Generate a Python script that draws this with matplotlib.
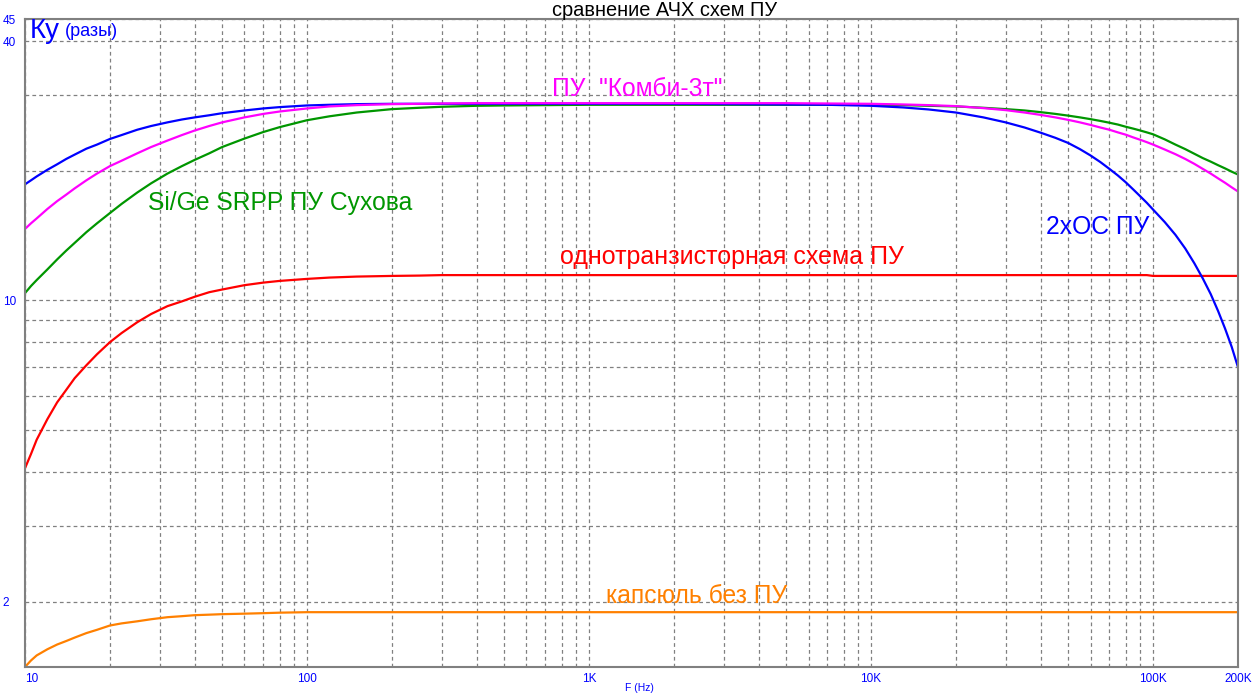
import matplotlib
matplotlib.use("Agg")
import matplotlib.pyplot as plt
from matplotlib.ticker import FixedLocator, NullFormatter

plt.rcParams['font.family'] = ['Liberation Sans', 'DejaVu Sans']

# --- data ---
freq = [10, 10.5, 11, 12, 13, 14, 15, 16.5, 18, 20,
        22, 25, 28, 32, 36, 40, 45, 50, 60, 70,
        80, 100, 120, 150, 200, 250, 300, 400, 500, 700,
        1e3,
        2e3, 5e3, 7e3, 1e4, 1.3e4, 1.6e4, 2e4, 2.5e4, 3e4, 3.5e4,
        4e4, 4.5e4, 5e4, 5.5e4, 6e4, 6.5e4, 7e4, 7.5e4, 8e4, 8.5e4,
        9e4, 9.5e4, 1e5, 1.1e5, 1.2e5, 1.3e5, 1.4e5, 1.5e5, 1.6e5, 1.7e5,
        1.8e5, 1.9e5, 2e5]

ku_2xos = [18.6, 19.0, 19.4, 20.1, 20.7, 21.3, 21.8, 22.5, 23.0, 23.7,
           24.2, 24.9, 25.4, 25.9, 26.3, 26.6, 26.9, 27.2, 27.6, 27.9,
           28.1, 28.35, 28.45, 28.55, 28.6, 28.6, 28.6, 28.6, 28.6, 28.6,
           28.6,
           28.6, 28.5, 28.45, 28.3, 28.05, 27.75, 27.3, 26.6, 25.9, 25.2,
           24.5, 23.85, 23.2, 22.45, 21.7, 20.95, 20.2, 19.5, 18.8, 18.1,
           17.45, 16.85, 16.25, 15.2, 14.2, 13.2, 12.2, 11.25, 10.35, 9.45,
           8.6, 7.8, 7.0]

ku_kombi = [14.65, 15.1, 15.5, 16.3, 17.0, 17.6, 18.2, 19.0, 19.7, 20.5,
            21.1, 21.95, 22.7, 23.5, 24.2, 24.8, 25.4, 25.9, 26.6, 27.1,
            27.45, 27.9, 28.2, 28.4, 28.55, 28.6, 28.65, 28.7, 28.7, 28.7,
            28.7,
            28.7, 28.7, 28.65, 28.6, 28.5, 28.4, 28.25, 27.95, 27.65, 27.3,
            26.95, 26.6, 26.25, 25.9, 25.55, 25.2, 24.9, 24.55, 24.25, 23.9,
            23.6, 23.3, 23.0, 22.4, 21.85, 21.3, 20.75, 20.2, 19.7, 19.2,
            18.75, 18.3, 17.9]

ku_srpp = [10.4, 10.8, 11.15, 11.8, 12.45, 13.05, 13.6, 14.4, 15.1, 15.95,
           16.75, 17.8, 18.7, 19.7, 20.5, 21.2, 21.95, 22.7, 23.75, 24.6,
           25.25, 26.2, 26.75, 27.3, 27.8, 28.0, 28.15, 28.3, 28.35, 28.4,
           28.45,
           28.45, 28.45, 28.45, 28.45, 28.4, 28.3, 28.2, 28.0, 27.8, 27.6,
           27.35, 27.1, 26.85, 26.6, 26.35, 26.1, 25.85, 25.6, 25.3, 25.05,
           24.8, 24.55, 24.3, 23.65, 23.0, 22.45, 21.9, 21.4, 21.0, 20.6,
           20.25, 19.9, 19.6]

ku_1tr = [4.08, 4.4, 4.75, 5.3, 5.8, 6.2, 6.6, 7.07, 7.5, 8.0,
          8.4, 8.9, 9.3, 9.7, 9.95, 10.2, 10.45, 10.6, 10.85, 11.0,
          11.1, 11.22, 11.3, 11.36, 11.4, 11.42, 11.45, 11.45, 11.45, 11.45,
          11.45,
          11.45, 11.45, 11.45, 11.45, 11.45, 11.45, 11.45, 11.45, 11.45, 11.45,
          11.45, 11.45, 11.45, 11.45, 11.45, 11.45, 11.45, 11.45, 11.45, 11.45,
          11.45, 11.45, 11.4, 11.4, 11.4, 11.4, 11.4, 11.4, 11.4, 11.4,
          11.4, 11.4, 11.4]

ku_caps = [1.41, 1.46, 1.50, 1.55, 1.59, 1.62, 1.65, 1.69, 1.72, 1.76,
           1.78, 1.80, 1.82, 1.84, 1.85, 1.86, 1.865, 1.87, 1.875, 1.88,
           1.885, 1.89, 1.89, 1.89, 1.89, 1.89, 1.89, 1.89, 1.89, 1.89,
           1.89,
           1.89, 1.89, 1.89, 1.89, 1.89, 1.89, 1.89, 1.89, 1.89, 1.89,
           1.89, 1.89, 1.89, 1.89, 1.89, 1.89, 1.89, 1.89, 1.89, 1.89,
           1.89, 1.89, 1.89, 1.89, 1.89, 1.89, 1.89, 1.89, 1.89, 1.89,
           1.89, 1.89, 1.89]

x_major = [10, 100, 1e3, 1e4, 1e5, 2e5]
x_major_labels = ['10', '100', '1K', '10K', '100K', '200K']
x_minor = [m * d for d in (10, 100, 1e3, 1e4) for m in range(2, 10)]
y_major = [2, 10, 40, 45]
y_major_labels = ['2', '10', '40', '45']
y_minor = [3, 4, 5, 6, 7, 8, 9, 20, 30]

BLUE = '#0000ff'
MAGENTA = '#ff00ff'
GREEN = '#009600'
RED = '#ff0000'
ORANGE = '#ff8000'
GRAY = '#808080'

W, H = 1259, 697
fig = plt.figure(figsize=(W / 100, H / 100), dpi=100)
ax = fig.add_axes([25 / W, 1 - 667 / H, (1238 - 25) / W, (667 - 19) / H])
ax.set_xscale('log')
ax.set_yscale('log')
ax.set_xlim(10, 2e5)
ax.set_ylim(1.41, 45)

ax.xaxis.set_major_locator(FixedLocator(x_major))
ax.xaxis.set_minor_locator(FixedLocator(x_minor))
ax.set_xticklabels(x_major_labels)
ax.xaxis.set_minor_formatter(NullFormatter())
ax.yaxis.set_major_locator(FixedLocator(y_major))
ax.yaxis.set_minor_locator(FixedLocator(y_minor))
ax.set_yticklabels(y_major_labels)
ax.yaxis.set_minor_formatter(NullFormatter())

ax.grid(True, which='both', color=GRAY, linestyle=(0, (3, 2.5)), linewidth=0.9)
ax.set_axisbelow(True)
ax.tick_params(which='both', length=0, labelcolor=BLUE, labelsize=8.5)
ax.tick_params(axis='x', pad=4)
ax.tick_params(axis='y', pad=16)
for lbl in ax.get_yticklabels():
    lbl.set_horizontalalignment('left')
ax.get_xticklabels()[0].set_horizontalalignment('left')
for s in ax.spines.values():
    s.set_color(GRAY)
    s.set_linewidth(1.5)

lw = 1.6
ax.plot(freq, ku_caps, color=ORANGE, lw=lw)
ax.plot(freq, ku_1tr, color=RED, lw=lw)
ax.plot(freq, ku_srpp, color=GREEN, lw=lw)
ax.plot(freq, ku_2xos, color=BLUE, lw=lw)
ax.plot(freq, ku_kombi, color=MAGENTA, lw=lw)

fs = 17.7
ax.text(1480, 30.9, 'ПУ  "Комби-3т"', color=MAGENTA, fontsize=fs, ha='center', va='center')
ax.text(80, 16.8, 'Si/Ge SRPP ПУ Сухова', color=GREEN, fontsize=fs, ha='center', va='center')
ax.text(63800, 14.8, '2хОС ПУ', color=BLUE, fontsize=fs, ha='center', va='center')
ax.text(3200, 12.6, 'однотранзисторная схема ПУ', color=RED, fontsize=18, ha='center', va='center')
ax.text(2410, 2.06, 'капсюль без ПУ', color=ORANGE, fontsize=fs, ha='center', va='center')

fig.text(665 / W, 1 - 11 / H, 'сравнение АЧХ схем ПУ', color='black', fontsize=14.4,
         ha='center', va='center')
fig.text(30 / W, 1 - 31 / H, 'Ку', color=BLUE, fontsize=20, ha='left', va='center')
fig.text(65 / W, 1 - 31 / H, '(разы)', color=BLUE, fontsize=13, ha='left', va='center')
fig.text(639 / W, 1 - 688 / H, 'F (Hz)', color=BLUE, fontsize=7.5, ha='center', va='center')

fig.savefig('out.png', dpi=100)
